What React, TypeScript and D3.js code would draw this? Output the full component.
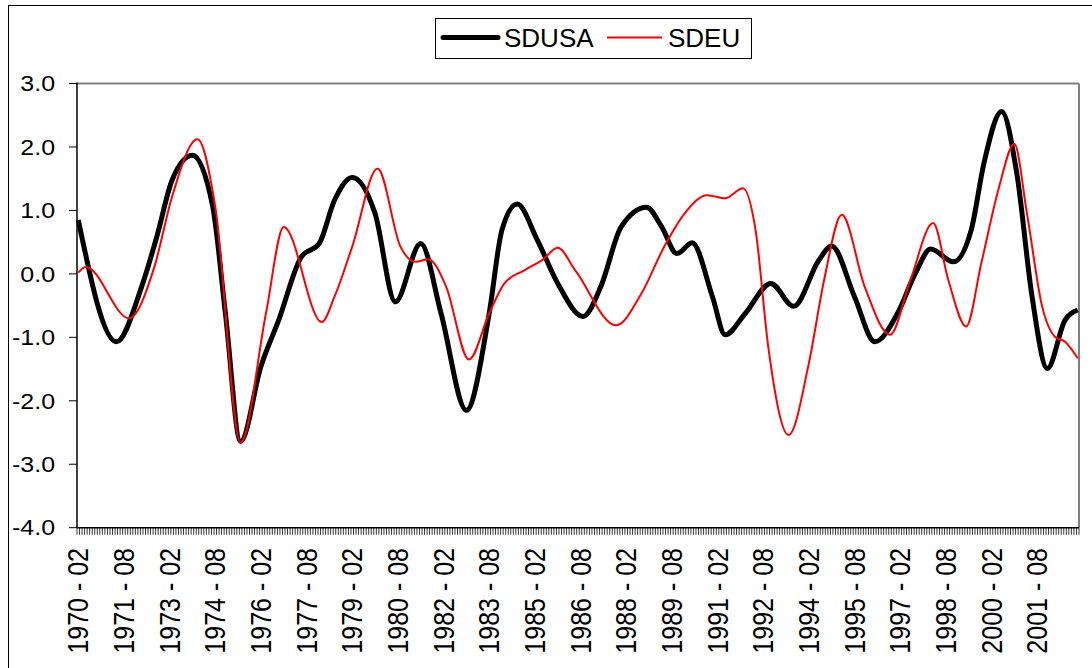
import React from "react";
import * as d3 from "d3";

// Monthly categories 1970-02 .. 2002-12
const START_YEAR = 1970;
const START_MONTH = 2;
const N_MONTHS = 395;
const categories: string[] = Array.from({ length: N_MONTHS }, (_, i) => {
  const t = START_YEAR * 12 + (START_MONTH - 1) + i;
  const y = Math.floor(t / 12);
  const m = (t % 12) + 1;
  return `${y}-${String(m).padStart(2, "0")}`;
});

const usaDates = [
  "1970-02","1971-05","1972-03","1972-09","1973-03","1973-11","1974-07","1974-12","1975-06","1976-02",
  "1976-09","1977-06","1978-01","1978-07","1979-02","1979-11","1980-07","1981-05","1982-01","1982-11",
  "1983-08","1984-01","1984-07","1985-03","1985-11","1986-09","1987-04","1987-12","1988-10","1989-04",
  "1989-10","1990-04","1990-12","1991-05","1992-01","1992-11","1993-08","1994-06","1994-11","1995-08",
  "1996-04","1997-01","1997-08","1998-02","1998-11","1999-06","1999-11","2000-06","2000-12","2001-06",
  "2001-12","2002-07","2002-12",
];
const usaValues = [
  0.85,-1.07,-0.20,0.59,1.48,1.87,1.06,-0.62,-2.64,-1.46,
  -0.73,0.27,0.48,1.16,1.52,0.95,-0.44,0.48,-0.62,-2.15,
  -0.62,0.69,1.10,0.53,-0.15,-0.67,-0.20,0.74,1.05,0.74,
  0.32,0.49,-0.36,-0.96,-0.62,-0.15,-0.51,0.22,0.44,-0.36,
  -1.07,-0.62,0.01,0.39,0.19,0.69,1.74,2.56,1.58,-0.36,
  -1.49,-0.73,-0.57,
];

const euDates = [
  "1970-02","1970-05","1971-10","1972-08","1973-03","1974-01","1974-08","1975-06","1976-04","1976-11",
  "1978-02","1978-07","1979-02","1979-12","1980-09","1981-03","1981-08","1982-03","1982-12","1983-08",
  "1984-02","1984-10","1985-05","1985-11","1986-06","1987-10","1988-08","1989-05","1990-01","1990-10",
  "1991-05","1991-12","1992-05","1992-10","1993-06","1994-02","1994-08","1995-03","1995-12","1996-10",
  "1997-06","1998-03","1998-09","1999-04","1999-10","2000-05","2000-11","2001-04","2001-10","2002-03",
  "2002-07","2002-12",
];
const euValues = [
  0.02,0.11,-0.70,0.11,1.22,2.12,1.06,-2.66,-0.62,0.74,
  -0.76,-0.36,0.43,1.66,0.43,0.19,0.23,-0.20,-1.35,-0.62,
  -0.15,0.06,0.22,0.41,0.05,-0.81,-0.31,0.43,0.95,1.24,
  1.19,1.35,0.69,-1.15,-2.54,-1.41,-0.10,0.93,-0.20,-0.96,
  -0.10,0.80,-0.10,-0.83,0.17,1.37,2.05,0.95,-0.52,-0.99,
  -1.07,-1.33,
];

const yTicks = [3, 2, 1, 0, -1, -2, -3, -4];
const LABEL_EVERY = 18;

const W = 1092;
const H = 668;
const PL = 77;
const PR = 1079;
const PT = 83.5;
const PB = 527.7;
const FONT = "'Liberation Sans', Arial, sans-serif";

export default function App() {
  const x = d3.scaleBand<string>().domain(categories).range([PL, PR]).paddingInner(0).paddingOuter(0);
  const bw = x.bandwidth();
  const cx = (c: string) => (x(c) as number) + bw / 2;
  const y = d3.scaleLinear().domain([-4, 3]).range([PB, PT]);

  const line = d3
    .line<[string, number]>()
    .x((d) => cx(d[0]))
    .y((d) => y(d[1]))
    .curve(d3.curveMonotoneX);

  const usa = usaDates.map((d, i) => [d, usaValues[i]] as [string, number]);
  const eu = euDates.map((d, i) => [d, euValues[i]] as [string, number]);

  const labelCats = categories.filter((_, i) => i % LABEL_EVERY === 0);
  const tickPositions = d3.range(categories.length + 1).map((i) => PL + i * bw);

  return (
    <svg
      width={W}
      height={H}
      style={{ position: "fixed", left: 0, top: 0, background: "#fff" }}
      fontFamily={FONT}
    >
      <rect x={0} y={0} width={W} height={H} fill="#fff" />
      {/* outer chart border */}
      <rect x={8.5} y={5.5} width={W + 10} height={H + 10} fill="none" stroke="#000" strokeWidth={1} />

      {/* plot area border (top/right gray) */}
      <line x1={PL} x2={PR} y1={PT} y2={PT} stroke="#808080" strokeWidth={2} />
      <line x1={PR} x2={PR} y1={PT} y2={PB} stroke="#808080" strokeWidth={2} />

      {/* y axis */}
      <line x1={PL} x2={PL} y1={PT - 1} y2={PB} stroke="#000" strokeWidth={1.5} />
      {yTicks.map((t) => (
        <g key={t}>
          <line x1={69} x2={PL} y1={y(t)} y2={y(t)} stroke="#000" strokeWidth={1} />
          <text
            transform={`translate(55,${y(t)}) scale(1.16,1)`}
            dy="0.36em"
            textAnchor="end"
            fontSize={21.5}
            fill="#000"
          >
            {t.toFixed(1)}
          </text>
        </g>
      ))}

      {/* x axis */}
      <line x1={PL} x2={PR} y1={PB} y2={PB} stroke="#000" strokeWidth={1.5} />
      {tickPositions.map((p, i) => (
        <line key={i} x1={p} x2={p} y1={PB} y2={PB + 7} stroke="#000" strokeWidth={0.8} />
      ))}
      {labelCats.map((c) => {
        const [yy, mm] = c.split("-");
        const px = cx(c) - 0.6;
        const py = 548;
        return (
          <text
            key={c}
            transform={`translate(${px},${py}) rotate(-90) scale(1,1.2)`}
            dy="0.36em"
            textAnchor="end"
            fontSize={25}
            fill="#000"
          >
            {`${yy} - ${mm}`}
          </text>
        );
      })}

      {/* series */}
      <path d={line(usa) || ""} fill="none" stroke="#000" strokeWidth={5} strokeLinejoin="round" />
      <path d={line(eu) || ""} fill="none" stroke="#ff0000" strokeWidth={2} strokeLinejoin="round" />

      {/* legend */}
      <rect x={435.5} y={18.5} width={316} height={40} fill="#fff" stroke="#000" strokeWidth={1} />
      <line x1={443} x2={498} y1={37.5} y2={37.5} stroke="#000" strokeWidth={5} strokeLinecap="round" />
      <text x={504} y={38} dy="0.36em" fontSize={26} fill="#000">SDUSA</text>
      <line x1={607} x2={662} y1={37.5} y2={37.5} stroke="#ff0000" strokeWidth={2} />
      <text x={668} y={38} dy="0.36em" fontSize={26} fill="#000">SDEU</text>
    </svg>
  );
}
